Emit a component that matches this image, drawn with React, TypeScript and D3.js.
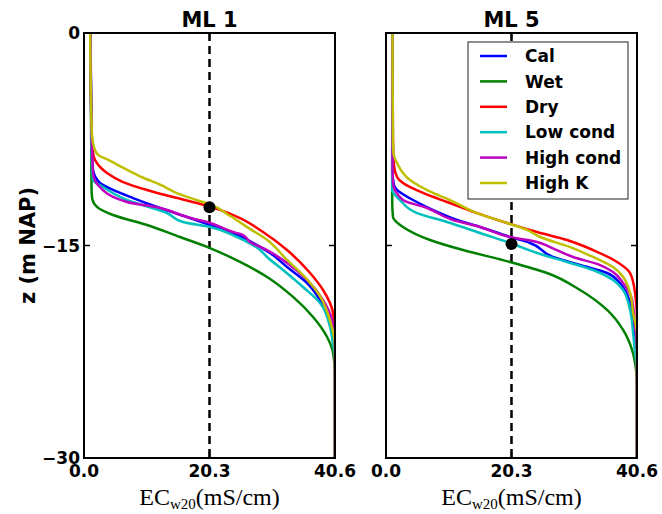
import React from 'react';
import * as d3 from 'd3';

type P = [number, number];

const seriesNames = ['Cal', 'Wet', 'Dry', 'Low cond', 'High cond', 'High K'];
const seriesColors = ['#0000ff', '#008000', '#ff0000', '#00bfbf', '#bf00bf', '#bfbf00'];

const panelTitles = ['ML 1', 'ML 5'];
const xTickValues = [0, 20.3, 40.6];
const xTickLabels = ['0.0', '20.3', '40.6'];
const yTickValues = [0, -15, -30];
const yTickLabels = ['0', '\u221215', '\u221230'];
const refEC = 20.3;
const markerZ = [-12.3, -14.9];

// ML 1 profiles: [EC (mS/cm), z (m NAP)]
const ml1Cal: P[] = [[1.05, 0], [1.21, -7.55], [1.29, -8.75], [1.46, -9.67], [2.59, -10.59], [4.69, -11.08], [7.93, -11.65], [12.3, -12.35], [16.67, -12.99], [20.39, -13.55], [24.11, -14.12], [27.34, -14.82], [30.09, -15.53], [32.85, -16.52], [36.08, -17.65], [38.18, -18.85], [39.48, -20.05], [40.29, -21.32], [40.6, -22.38], [40.6, -30]];
const ml1Wet: P[] = [[1.05, 0], [1.21, -10.73], [1.29, -11.58], [2.1, -12.28], [4.69, -12.85], [10.19, -13.55], [15.53, -14.4], [20.39, -15.18], [25.24, -16.16], [29.61, -17.22], [33.82, -18.63], [37.05, -20.05], [39.32, -21.46], [40.29, -22.59], [40.6, -24.13], [40.6, -30]];
const ml1Dry: P[] = [[1.05, 0], [1.21, -6.85], [1.29, -7.55], [1.46, -8.47], [1.78, -8.96], [3.72, -9.88], [6.31, -10.52], [10.19, -11.08], [14.4, -11.58], [18.28, -12.0], [22.0, -12.49], [25.24, -13.06], [28.96, -14.05], [32.84, -15.32], [36.57, -16.94], [38.67, -18.14], [40.29, -19.76], [40.6, -21.32], [40.6, -30]];
const ml1Low: P[] = [[1.05, 0], [1.21, -8.26], [1.46, -10.38], [3.07, -10.87], [6.96, -11.79], [13.43, -12.71], [16.02, -13.34], [20.39, -13.69], [24.76, -14.4], [28.48, -15.32], [29.61, -15.81], [32.2, -16.73], [35.43, -17.93], [38.18, -19.06], [39.8, -20.75], [40.29, -22.02], [40.6, -23.08], [40.6, -30]];
const ml1High: P[] = [[1.05, 0], [1.21, -6.49], [1.46, -9.88], [2.27, -10.73], [6.96, -11.93], [12.3, -12.35], [16.67, -12.99], [20.39, -13.41], [24.11, -14.05], [25.73, -14.26], [26.86, -14.75], [29.61, -15.32], [32.85, -16.23], [36.08, -17.43], [38.67, -18.85], [40.13, -20.26], [40.6, -22.02], [40.6, -30]];
const ml1K: P[] = [[1.0, 0], [1.2, -6.1], [1.3, -7.2], [1.8, -8.3], [2.6, -8.7], [3.4, -8.85], [6.3, -9.5], [9.5, -10.2], [12.3, -10.7], [15.0, -11.3], [18.3, -11.8], [20.4, -12.1], [23.6, -12.9], [26.4, -13.7], [29.6, -14.6], [32.8, -16.0], [36.1, -17.4], [38.2, -18.6], [39.8, -20.3], [40.6, -22.2], [40.6, -30]];

// ML 5 profiles
const ml5Cal: P[] = [[1.05, 0], [1.0, -9.67], [1.29, -10.73], [1.78, -11.08], [4.37, -11.79], [8.74, -12.71], [11.49, -13.2], [15.21, -13.69], [20.06, -14.4], [23.3, -14.82], [27.02, -15.81], [31.39, -16.38], [35.76, -16.94], [37.86, -17.65], [39.16, -18.63], [39.97, -20.05], [40.29, -21.67], [40.6, -23.08], [40.6, -30]];
const ml5Wet: P[] = [[1.05, 0], [1.0, -11.79], [1.13, -12.99], [2.75, -13.69], [7.12, -14.61], [12.46, -15.32], [20.06, -16.16], [26.05, -16.94], [31.39, -18.14], [35.76, -19.55], [38.35, -20.96], [39.81, -22.38], [40.45, -23.79], [40.6, -24.85], [40.6, -30]];
const ml5Dry: P[] = [[1.05, 0], [1.13, -7.55], [1.29, -9.3], [1.78, -10.16], [2.75, -10.59], [5.99, -11.29], [9.87, -11.93], [14.72, -12.71], [19.57, -13.41], [24.43, -14.05], [29.29, -14.61], [33.49, -15.32], [37.38, -16.16], [39.48, -16.94], [40.29, -18.35], [40.6, -20.26], [40.6, -30]];
const ml5Low: P[] = [[1.05, 0], [1.0, -10.02], [1.0, -11.08], [2.27, -11.79], [5.02, -12.71], [9.87, -13.34], [15.21, -14.12], [20.06, -14.82], [24.43, -15.53], [29.29, -16.16], [33.49, -16.73], [36.73, -17.43], [38.35, -18.14], [39.48, -19.55], [39.97, -21.18], [40.29, -22.59], [40.6, -23.79], [40.6, -30]];
const ml5High: P[] = [[1.05, 0], [1.05, -8.96], [1.13, -10.59], [2.75, -11.79], [6.63, -12.35], [10.84, -13.2], [15.21, -13.69], [20.06, -14.4], [24.43, -14.75], [26.54, -15.11], [30.26, -15.81], [34.63, -16.38], [36.73, -16.87], [38.35, -17.65], [39.81, -18.85], [40.29, -20.75], [40.6, -22.02], [40.6, -30]];
const ml5K: P[] = [[1.05, 0], [1.13, -7.55], [1.2, -8.47], [1.78, -9.18], [3.88, -10.38], [7.6, -11.29], [10.35, -11.79], [14.72, -12.71], [19.57, -13.41], [22.81, -13.9], [24.92, -14.4], [29.77, -15.11], [33.49, -15.81], [36.73, -16.52], [38.35, -17.22], [39.48, -18.35], [39.97, -19.76], [40.6, -21.3], [40.6, -30]];

const panelSeries: P[][][] = [
  [ml1Cal, ml1Wet, ml1Dry, ml1Low, ml1High, ml1K],
  [ml5Cal, ml5Wet, ml5Dry, ml5Low, ml5High, ml5K],
];

const W = 662;
const H = 514;
const panelLefts = [84, 386];
const panelW = 251;
const top = 33;
const bottom = 458;
const boldFont = 'DejaVu Sans, sans-serif';

export default function App() {
  const y = d3.scaleLinear().domain([0, -30]).range([top, bottom]);

  return (
    <svg width={W} height={H} style={{ position: 'absolute', left: 0, top: 0, background: '#fff' }}>
      <rect x={0} y={0} width={W} height={H} fill="#fff" />
      <defs>
        {panelLefts.map((l, i) => (
          <clipPath id={`clip${i}`} key={i}>
            <rect x={l} y={top} width={panelW} height={bottom - top} />
          </clipPath>
        ))}
      </defs>
      {panelLefts.map((left, pi) => {
        const x = d3.scaleLinear().domain([0, 40.6]).range([left, left + panelW]);
        const line = d3
          .line<P>()
          .x((d) => x(d[0]))
          .y((d) => y(d[1]))
          .curve(d3.curveMonotoneY);
        return (
          <g key={pi}>
            <text x={left + panelW / 2} y={27} textAnchor="middle" fontFamily={boldFont} fontWeight="bold" fontSize={21}>
              {panelTitles[pi]}
            </text>
            <g clipPath={`url(#clip${pi})`}>
              <line x1={x(refEC)} x2={x(refEC)} y1={top} y2={bottom} stroke="#000" strokeWidth={2.5} strokeDasharray="8,5" />
              {panelSeries[pi].map((s, si) => (
                <path key={si} d={line(s) || ''} fill="none" stroke={seriesColors[si]} strokeWidth={2.5} />
              ))}
              <circle cx={x(refEC)} cy={y(markerZ[pi])} r={6} fill="#000" />
            </g>
            {xTickValues.map((v, ti) => (
              <g key={ti}>
                <line x1={x(v)} x2={x(v)} y1={bottom} y2={bottom - 6} stroke="#000" strokeWidth={1.5} />
                <line x1={x(v)} x2={x(v)} y1={top} y2={top + 6} stroke="#000" strokeWidth={1.5} />
                <text x={x(v)} y={477} textAnchor="middle" fontFamily={boldFont} fontWeight="bold" fontSize={17}>
                  {xTickLabels[ti]}
                </text>
              </g>
            ))}
            {yTickValues.map((v, ti) => (
              <g key={ti}>
                <line x1={left} x2={left + 6} y1={y(v)} y2={y(v)} stroke="#000" strokeWidth={1.5} />
                <line x1={left + panelW} x2={left + panelW - 6} y1={y(v)} y2={y(v)} stroke="#000" strokeWidth={1.5} />
                {pi === 0 && (
                  <text x={left - 4} y={y(v)} dy="0.36em" textAnchor="end" fontFamily={boldFont} fontWeight="bold" fontSize={17}>
                    {yTickLabels[ti]}
                  </text>
                )}
              </g>
            ))}
            <rect x={left} y={top} width={panelW} height={bottom - top} fill="none" stroke="#000" strokeWidth={2} />
            <text x={left + panelW / 2} y={505} textAnchor="middle" fontFamily="Liberation Serif, serif" fontSize={24}>
              EC<tspan fontSize={15} dy={4}>w20</tspan>
              <tspan dy={-4}>(mS/cm)</tspan>
            </text>
          </g>
        );
      })}
      <text
        transform={`translate(35, ${(top + bottom) / 2}) rotate(-90)`}
        textAnchor="middle"
        fontFamily={boldFont}
        fontWeight="bold"
        fontSize={21}
      >
        z (m NAP)
      </text>
      <g>
        <rect x={468} y={42} width={160} height={157} fill="#fff" stroke="#222" strokeWidth={1} />
        {seriesNames.map((n, i) => {
          const cy = 56 + i * 25.4;
          return (
            <g key={n}>
              <line x1={480} x2={507} y1={cy} y2={cy} stroke={seriesColors[i]} strokeWidth={2.5} />
              <text x={525} y={cy} dy="0.36em" fontFamily={boldFont} fontWeight="bold" fontSize={17}>
                {n}
              </text>
            </g>
          );
        })}
      </g>
    </svg>
  );
}
